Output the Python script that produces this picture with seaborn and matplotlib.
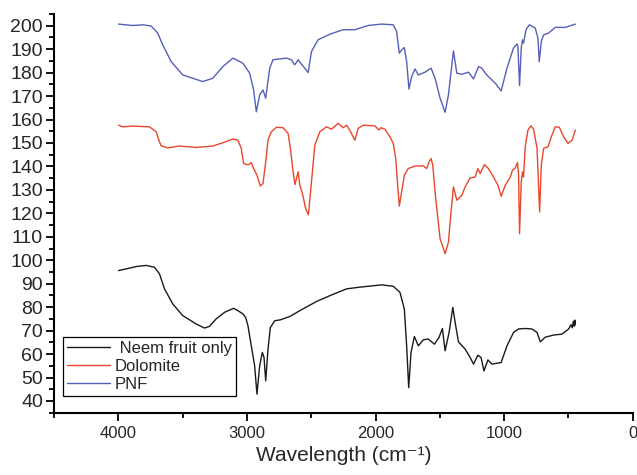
import numpy as np
import pandas as pd
import seaborn as sns
import matplotlib.pyplot as plt
from matplotlib.ticker import MultipleLocator

# spectra (wavenumber in cm-1, y in arbitrary units)
neem_x = [3998, 3940, 3862, 3784, 3719, 3680, 3641, 3577, 3499, 3394,
          3330, 3291, 3239, 3174, 3104, 3070, 3031, 3010, 2992, 2966,
          2940, 2922, 2901, 2880, 2867, 2854, 2836, 2818, 2784, 2740,
          2667, 2576, 2459, 2342, 2225, 2127, 2057, 1953, 1862, 1810,
          1776, 1758, 1742, 1724, 1698, 1667, 1628, 1589, 1542, 1506,
          1480, 1459, 1428, 1399, 1381, 1355, 1303, 1264, 1238, 1204,
          1179, 1157, 1126, 1095, 1056, 1023, 978, 927, 888, 836,
          784, 744, 719, 680, 615, 550, 498, 480, 470, 462,
          455, 450, 446]
neem_y = [95.6, 96.3, 97.3, 97.8, 97.0, 94.2, 87.8, 81.4, 76.4, 72.8,
          71.1, 71.8, 75.0, 77.8, 79.5, 78.5, 77.1, 75.6, 72.1, 63.5,
          55.0, 42.9, 55.0, 60.7, 58.5, 48.6, 62.1, 71.3, 74.2, 74.6,
          76.0, 78.9, 82.4, 85.2, 87.8, 88.5, 88.9, 89.5, 88.9, 86.3,
          79.2, 63.5, 45.7, 60.7, 67.5, 63.5, 66.1, 66.4, 64.2, 67.1,
          70.9, 61.4, 69.2, 79.9, 73.5, 65.2, 62.1, 58.5, 55.7, 59.5,
          58.5, 52.8, 57.5, 55.7, 56.1, 56.4, 63.5, 69.2, 70.7, 70.9,
          70.7, 69.2, 65.2, 67.2, 68.1, 68.5, 70.7, 72.5, 71.2, 74.0,
          71.8, 74.5, 72.5]

dolomite_x = [3998, 3966, 3889, 3758, 3706, 3680, 3667, 3616, 3525, 3394,
              3265, 3187, 3109, 3070, 3044, 3026, 3005, 2984, 2966, 2948,
              2922, 2896, 2875, 2854, 2836, 2810, 2771, 2719, 2680, 2662,
              2641, 2626, 2602, 2589, 2568, 2543, 2522, 2498, 2472, 2433,
              2381, 2342, 2291, 2252, 2225, 2194, 2161, 2135, 2096, 2005,
              1974, 1958, 1927, 1888, 1862, 1843, 1828, 1815, 1797, 1776,
              1745, 1693, 1628, 1602, 1584, 1568, 1555, 1532, 1498, 1459,
              1433, 1413, 1394, 1368, 1329, 1303, 1264, 1225, 1204, 1186,
              1153, 1122, 1083, 1048, 1023, 991, 952, 935, 914, 896,
              888, 880, 867, 857, 849, 836, 815, 791, 771, 744,
              724, 711, 693, 659, 628, 602, 571, 537, 503, 472,
              446]
dolomite_y = [157.6, 156.9, 157.2, 156.9, 154.8, 150.5, 148.8, 147.9, 148.7, 148.1,
              148.7, 150.1, 151.7, 151.2, 147.7, 141.3, 140.8, 140.8, 141.7, 139.1,
              136.3, 131.7, 132.7, 141.9, 151.2, 154.8, 156.7, 156.5, 154.1, 147.7,
              137.7, 132.3, 137.7, 132.0, 128.4, 122.0, 119.4, 133.4, 149.1, 154.8,
              156.9, 155.9, 158.4, 156.5, 157.6, 154.8, 151.2, 156.2, 157.6, 157.3,
              155.5, 156.5, 155.9, 152.6, 149.8, 143.4, 132.0, 123.1, 129.1, 136.3,
              139.1, 140.2, 140.2, 139.1, 141.9, 143.4, 140.5, 126.3, 109.2, 102.8,
              107.7, 120.6, 131.3, 125.6, 127.7, 131.3, 135.1, 135.5, 139.1, 137.0,
              140.8, 139.1, 135.5, 132.0, 127.3, 132.0, 135.5, 138.4, 139.3, 141.7,
              137.0, 111.3, 133.4, 137.7, 135.5, 148.4, 155.5, 157.3, 155.9, 147.7,
              120.6, 140.5, 147.7, 148.4, 153.4, 156.9, 156.7, 152.6, 149.8, 151.2,
              155.5]

pnf_x = [3998, 3889, 3811, 3745, 3694, 3655, 3589, 3499, 3343, 3265,
         3187, 3109, 3031, 2979, 2948, 2927, 2901, 2875, 2854, 2823,
         2797, 2693, 2654, 2628, 2602, 2576, 2550, 2524, 2498, 2447,
         2355, 2252, 2161, 2057, 1953, 1862, 1836, 1815, 1797, 1776,
         1758, 1740, 1719, 1693, 1667, 1615, 1568, 1537, 1498, 1459,
         1433, 1394, 1368, 1329, 1277, 1238, 1199, 1173, 1147, 1122,
         1069, 1023, 978, 927, 900, 893, 880, 867, 857, 849,
         830, 804, 758, 737, 727, 711, 693, 654, 602, 524,
         446]
pnf_y = [200.7, 200.1, 200.4, 199.9, 196.9, 191.9, 184.7, 179.0, 176.2, 177.6,
         182.6, 186.2, 184.0, 179.8, 172.6, 163.3, 170.5, 172.6, 169.1, 181.9,
         185.5, 186.2, 185.5, 183.3, 185.5, 183.6, 181.9, 180.0, 189.0, 194.0,
         196.4, 198.3, 198.3, 200.1, 200.7, 200.4, 197.6, 188.3, 189.7, 190.7,
         184.7, 173.0, 178.3, 181.6, 179.0, 180.2, 181.9, 177.6, 169.1, 163.1,
         170.5, 189.3, 179.8, 179.3, 180.2, 177.3, 182.6, 181.9, 179.8, 178.3,
         175.5, 172.2, 181.9, 190.5, 192.2, 191.2, 174.5, 190.5, 194.0, 192.6,
         198.3, 200.4, 199.0, 194.7, 184.7, 193.3, 196.1, 196.9, 199.3, 199.3,
         200.7]

labels = [' Neem fruit only', 'Dolomite', 'PNF']
colors = ['#1a1a1a', '#e8472b', '#5560b8']

sns.set_style('ticks')
plt.rcParams['font.family'] = ['Liberation Sans', 'DejaVu Sans']

frames = []
for name, xs, ys in zip(labels, [neem_x, dolomite_x, pnf_x], [neem_y, dolomite_y, pnf_y]):
    frames.append(pd.DataFrame({'wn': xs, 'val': ys, 'sample': name}))
df = pd.concat(frames, ignore_index=True)

fig = plt.figure(figsize=(6.37, 4.75), dpi=100)
ax = fig.add_axes([0.0848, 0.1312, 0.9085, 0.8393])
sns.lineplot(data=df, x='wn', y='val', hue='sample', palette=colors,
             sort=False, estimator=None, lw=1.0, ax=ax)

ax.set_xlim(4500, 0)
ax.set_ylim(35, 205)
ax.xaxis.set_major_locator(MultipleLocator(1000))
ax.xaxis.set_minor_locator(MultipleLocator(500))
ax.yaxis.set_major_locator(MultipleLocator(10))
ax.yaxis.set_minor_locator(MultipleLocator(5))
ax.tick_params(which='major', direction='out', length=6, width=1.3, labelsize=12, color='black')
ax.tick_params(which='minor', direction='out', length=3.5, width=1.3, color='black')
ax.tick_params(axis='y', which='major', labelsize=14, pad=2)
for s in ['left', 'bottom']:
    ax.spines[s].set_linewidth(1.5)
    ax.spines[s].set_color('black')
sns.despine(ax=ax)

ax.set_xlabel('Wavelength (cm⁻¹)', fontsize=15)
ax.set_ylabel('')

h, l = ax.get_legend_handles_labels()
ax.legend(h, l, loc='lower left', bbox_to_anchor=(0.0156, 0.042), borderaxespad=0,
          fontsize=12, frameon=True, fancybox=False, framealpha=1, edgecolor='black',
          handlelength=2.6, handletextpad=0.3, labelspacing=0.2, borderpad=0.22)
ax.get_legend().get_frame().set_linewidth(0.9)

fig.savefig('out.png', dpi=100)
